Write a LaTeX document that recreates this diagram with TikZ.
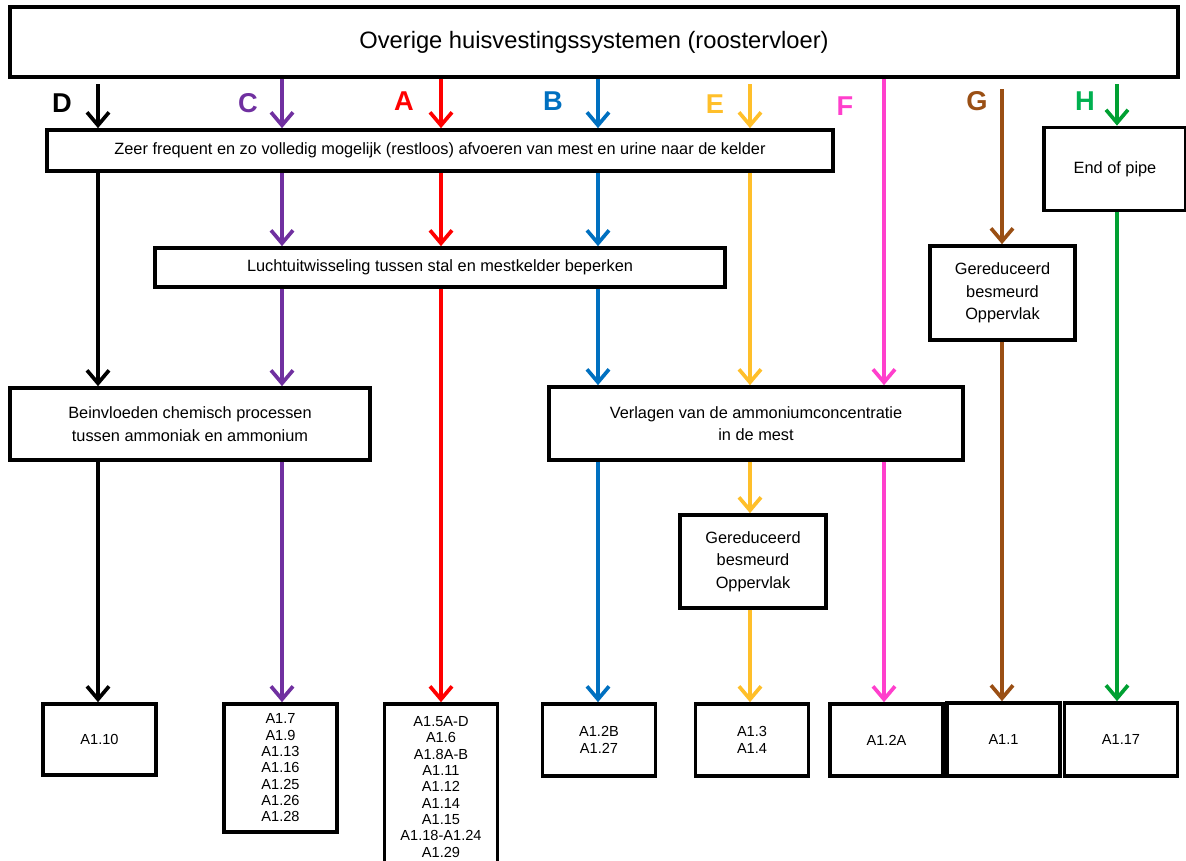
\documentclass[tikz,border=0pt]{standalone}
\usepackage{fontspec}
\setmainfont{Liberation Sans}
\usetikzlibrary{arrows.meta}
\definecolor{lineD}{HTML}{000000}
\definecolor{lineC}{HTML}{7030A0}
\definecolor{lineA}{HTML}{FF0000}
\definecolor{lineB}{HTML}{0070C0}
\definecolor{lineE}{HTML}{FFBF2A}
\definecolor{lineF}{HTML}{FF3FCC}
\definecolor{lineG}{HTML}{9A4F14}
\definecolor{lineH}{HTML}{00A032}
\definecolor{letterH}{HTML}{00B050}
\newcommand{\boxFont}{\fontsize{9.3}{12.8}\selectfont}
\newcommand{\codeFont}{\fontsize{8.3}{9.3}\selectfont}

\begin{document}
\begin{tikzpicture}[x=0.02cm, y=-0.02cm]
  \tikzset{box/.style={draw, line width=2.1pt, inner sep=0pt, align=center, font=\boxFont},
    code/.style={box, minimum width=2.26cm, font=\codeFont},
    route/.style={line width=2.1pt, -{Straight Barb[length=0.26cm,width=0.44cm]}},
    letter/.style={font=\fontsize{15.5}{15.5}\selectfont\bfseries}}
  \useasboundingbox (0,0) rectangle (1186,861);
  \clip (0,0) rectangle (1186,861);
  \node[box, minimum width=23.36cm, minimum height=1.4cm, font=\fontsize{13.5}{16}\selectfont] (top) at (594,42) {Overige huisvestingssystemen (roostervloer)};
  \node[box, minimum width=15.72cm, minimum height=0.82cm] (zeer) at (440,150.5) {Zeer frequent en zo volledig mogelijk (restloos) afvoeren van mest en urine naar de kelder};
  \node[box, minimum width=2.84cm, minimum height=1.66cm] (pipe) at (1115,169) {End of pipe};
  \node[box, minimum width=11.4cm, minimum height=0.78cm] (lucht) at (440,267.5) {Luchtuitwisseling tussen stal en mestkelder beperken};
  \node[box, minimum width=2.9cm, minimum height=1.88cm] (gered-1) at (1002.5,293) {Gereduceerd\\besmeurd\\Oppervlak};
  \node[box, minimum width=7.2cm, minimum height=1.44cm] (bein) at (190,424) {Beinvloeden chemisch processen\\tussen ammoniak en ammonium};
  \node[box, minimum width=8.28cm, minimum height=1.46cm] (verl) at (756,423.5) {Verlagen van de ammoniumconcentratie\\in de mest};
  \node[box, minimum width=2.92cm, minimum height=1.86cm] (gered-2) at (753,561.5) {Gereduceerd\\besmeurd\\Oppervlak};

  \node[code, minimum height=1.42cm] (res-D) at (99.5,739.5) {A1.10};
  \node[code, minimum height=2.56cm] (res-C) at (280.5,768) {A1.7\\A1.9\\A1.13\\A1.16\\A1.25\\A1.26\\A1.28};
  \node[code, minimum height=3.32cm] (res-A) at (441,787) {A1.5A-D\\A1.6\\A1.8A-B\\A1.11\\A1.12\\A1.14\\A1.15\\A1.18-A1.24\\A1.29};
  \node[code, minimum height=1.44cm] (res-B) at (599,740) {A1.2B\\A1.27};
  \node[code, minimum height=1.44cm] (res-E) at (752,740) {A1.3\\A1.4};
  \node[code, minimum height=1.44cm] (res-F) at (886.5,740) {A1.2A};
  \node[code, minimum height=1.46cm] (res-G) at (1003.5,739.5) {A1.1};
  \node[code, minimum height=1.46cm] (res-H) at (1121,739.5) {A1.17};

  \node[letter, text=lineD] (lab-D) at (62,103) {D};
  \node[letter, text=lineC] (lab-C) at (248,103) {C};
  \node[letter, text=lineA] (lab-A) at (404,101) {A};
  \node[letter, text=lineB] (lab-B) at (553,101) {B};
  \node[letter, text=lineE] (lab-E) at (715,104) {E};
  \node[letter, text=lineF] (lab-F) at (845,106) {F};
  \node[letter, text=lineG] (lab-G) at (977,101) {G};
  \node[letter, text=letterH] (lab-H) at (1085,101) {H};

  \coordinate (col-D) at (98,0);
  \coordinate (col-C) at (282,0);
  \coordinate (col-A) at (441,0);
  \coordinate (col-B) at (598,0);
  \coordinate (col-E) at (750,0);
  \coordinate (col-F) at (884,0);
  \coordinate (col-G) at (1002,0);
  \coordinate (col-H) at (1117,0);

  \draw[route, lineD, shorten <=3pt] (top.south -| col-D) -- (zeer.north -| col-D);
  \draw[route, lineD] (zeer.south -| col-D) -- (bein.north -| col-D);
  \draw[route, lineD] (bein.south -| col-D) -- (res-D.north -| col-D);

  \draw[route, lineC] (top.south -| col-C) -- (zeer.north -| col-C);
  \draw[route, lineC] (zeer.south -| col-C) -- (lucht.north -| col-C);
  \draw[route, lineC] (lucht.south -| col-C) -- (bein.north -| col-C);
  \draw[route, lineC] (bein.south -| col-C) -- (res-C.north -| col-C);

  \draw[route, lineA] (top.south -| col-A) -- (zeer.north -| col-A);
  \draw[route, lineA] (zeer.south -| col-A) -- (lucht.north -| col-A);
  \draw[route, lineA] (lucht.south -| col-A) -- (res-A.north -| col-A);

  \draw[route, lineB] (top.south -| col-B) -- (zeer.north -| col-B);
  \draw[route, lineB] (zeer.south -| col-B) -- (lucht.north -| col-B);
  \draw[route, lineB] (lucht.south -| col-B) -- (verl.north -| col-B);
  \draw[route, lineB] (verl.south -| col-B) -- (res-B.north -| col-B);

  \draw[route, lineE, shorten <=3pt] (top.south -| col-E) -- (zeer.north -| col-E);
  \draw[route, lineE] (zeer.south -| col-E) -- (verl.north -| col-E);
  \draw[route, lineE] (verl.south -| col-E) -- (gered-2.north -| col-E);
  \draw[route, lineE] (gered-2.south -| col-E) -- (res-E.north -| col-E);

  \draw[route, lineF] (top.south -| col-F) -- (verl.north -| col-F);
  \draw[route, lineF] (verl.south -| col-F) -- (res-F.north -| col-F);

  \draw[route, lineG, shorten <=6pt] (top.south -| col-G) -- (gered-1.north -| col-G);
  \draw[route, lineG] (gered-1.south -| col-G) -- (res-G.north -| col-G);

  \draw[route, lineH, shorten <=3pt] (top.south -| col-H) -- (pipe.north -| col-H);
  \draw[route, lineH] (pipe.south -| col-H) -- (res-H.north -| col-H);
\end{tikzpicture}
\end{document}
